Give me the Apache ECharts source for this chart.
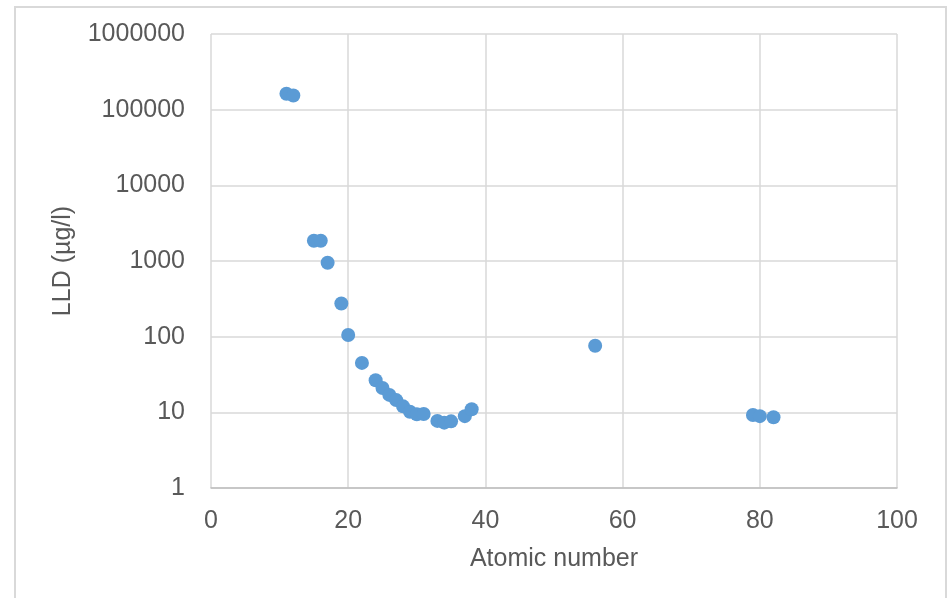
<!DOCTYPE html>
<html>
<head>
<meta charset="utf-8">
<script src="https://cdn.jsdelivr.net/npm/echarts@6/dist/echarts.min.js"></script>
<style>
  html, body { margin: 0; padding: 0; background: #ffffff; }
  #chart { width: 947px; height: 598px; }
</style>
</head>
<body>
<div id="chart"></div>
<script>
// Atomic number of each element measured
const atomicNumbers = [11, 12, 15, 16, 17, 19, 20, 22, 24, 25, 26, 27, 28, 29, 30, 31, 33, 34, 35, 37, 38, 56, 79, 80, 82];
// Lower limit of detection, µg/l
const lldValues = [162000, 154000, 1850, 1850, 950, 274, 105, 45, 26.5, 21, 17, 14.5, 12, 10.2, 9.4, 9.5, 7.7, 7.3, 7.6, 8.9, 11, 76, 9.2, 8.9, 8.6];
// Axis tick labels
const xTicks = [0, 20, 40, 60, 80, 100];
const yTicks = [1, 10, 100, 1000, 10000, 100000, 1000000];

const points = atomicNumbers.map((z, i) => [z, lldValues[i]]);

const textColor = '#595959';
const fontFamily = '"Liberation Sans", Arial, sans-serif';

const chart = echarts.init(document.getElementById('chart'), null, { renderer: 'canvas' });
chart.setOption({
  backgroundColor: '#ffffff',
  animation: false,
  graphic: [{
    type: 'rect',
    shape: { x: 15, y: 7, width: 931, height: 620 },
    style: { fill: 'none', stroke: '#d9d9d9', lineWidth: 2 },
    silent: true
  }],
  grid: { left: 211, right: 50, top: 34, bottom: 110, containLabel: false },
  xAxis: {
    type: 'value',
    min: xTicks[0],
    max: xTicks[xTicks.length - 1],
    interval: xTicks[1] - xTicks[0],
    name: 'Atomic number',
    nameLocation: 'middle',
    nameGap: 59,
    nameTextStyle: { color: textColor, fontSize: 25, fontFamily: fontFamily },
    axisLine: { show: true, lineStyle: { color: '#bfbfbf', width: 1.5 } },
    axisTick: { show: false },
    axisLabel: { color: textColor, fontSize: 25, fontFamily: fontFamily, margin: 21 },
    splitLine: { show: true, lineStyle: { color: '#d9d9d9', width: 1.5 } }
  },
  yAxis: {
    type: 'log',
    logBase: 10,
    min: yTicks[0],
    max: yTicks[yTicks.length - 1],
    name: 'LLD (µg/l)',
    nameLocation: 'middle',
    nameGap: 135,
    nameTextStyle: { color: textColor, fontSize: 25, fontFamily: fontFamily },
    axisLine: { show: false },
    axisTick: { show: false },
    axisLabel: {
      color: textColor, fontSize: 25, fontFamily: fontFamily, margin: 26,
      formatter: v => String(Math.round(v))
    },
    splitLine: { show: true, lineStyle: { color: '#d9d9d9', width: 1.5 } }
  },
  series: [{
    type: 'scatter',
    data: points,
    symbol: 'circle',
    symbolSize: 14,
    itemStyle: { color: '#5b9bd5', opacity: 1 }
  }]
});
</script>
</body>
</html>
